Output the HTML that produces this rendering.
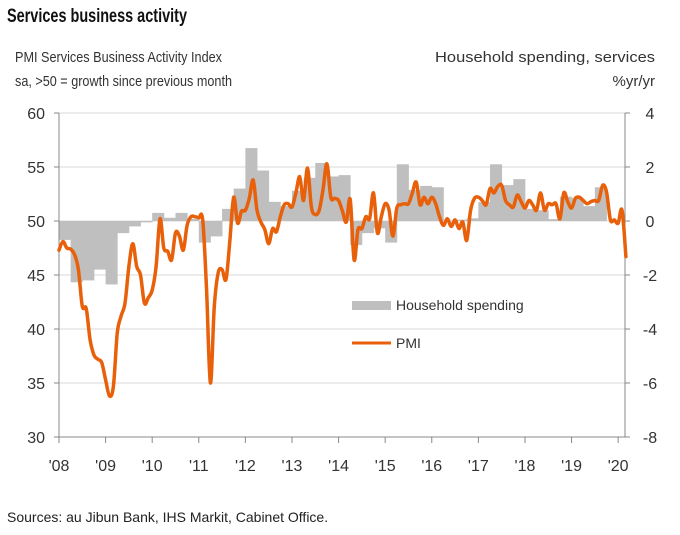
<!DOCTYPE html>
<html><head><meta charset="utf-8"><style>
body{margin:0;background:#fff;}
svg{display:block;font-family:"Liberation Sans",sans-serif;}
</style></head><body>
<svg id="chart" width="680" height="535" viewBox="0 0 680 535" xmlns="http://www.w3.org/2000/svg">
<text x="7" y="22" font-size="19" font-weight="bold" fill="#111" textLength="180" lengthAdjust="spacingAndGlyphs">Services business activity</text>
<text x="15" y="62" font-size="15" fill="#333" textLength="207" lengthAdjust="spacingAndGlyphs">PMI Services Business Activity Index</text>
<text x="15" y="86" font-size="15" fill="#333" textLength="217" lengthAdjust="spacingAndGlyphs">sa, &gt;50 = growth since previous month</text>
<text x="655" y="62" font-size="15" fill="#333" text-anchor="end" textLength="220" lengthAdjust="spacingAndGlyphs">Household spending, services</text>
<text x="655" y="86" font-size="15" fill="#333" text-anchor="end">%yr/yr</text>
<g id="grid"></g>
<g id="bars"></g>
<g id="axes"></g>
<path id="pmi" fill="none" stroke="#e8600a" stroke-width="3.5" stroke-linejoin="round" stroke-linecap="round"/>
<g>
<rect x="352" y="301" width="39" height="9" fill="#bfbfbf"/>
<text x="396" y="310" font-size="14" fill="#333">Household spending</text>
<line x1="352" y1="343" x2="391" y2="343" stroke="#e8600a" stroke-width="3"/>
<text x="396" y="348" font-size="14" fill="#333">PMI</text>
</g>
<text x="7" y="522" font-size="14" fill="#222">Sources: au Jibun Bank, IHS Markit, Cabinet Office.</text>
</svg>
<script>
const leftTicks = [30,35,40,45,50,55,60];
const rightTicks = [-8,-6,-4,-2,0,2,4];
const yearLabels = ["'08","'09","'10","'11","'12","'13","'14","'15","'16","'17","'18","'19","'20"];
const pmi = [47.3,48.1,47.5,47.4,46.9,45.5,42.1,41.9,39.0,37.6,37.2,36.9,
35.3,33.8,34.7,39.6,41.2,42.4,45.8,47.9,45.8,45.0,42.4,42.9,
43.6,45.8,50.2,47.5,47.2,46.4,48.9,48.6,47.3,49.6,50.4,50.4,
50.3,50.1,43.6,35.0,42.1,45.2,45.5,44.6,48.2,52.2,49.8,50.9,
51.0,52.1,53.8,51.0,49.9,49.2,47.9,49.3,49.0,50.4,51.5,51.6,
51.3,52.6,54.1,51.9,54.9,51.3,50.6,51.0,52.9,55.3,52.2,52.1,
51.9,50.9,49.9,52.0,46.4,49.2,49.3,50.4,50.2,52.6,48.9,50.4,
51.6,51.0,48.6,51.2,51.5,51.6,51.6,52.6,53.6,51.5,52.2,51.6,
52.2,51.6,50.4,49.6,50.2,49.5,50.1,49.3,49.9,48.2,51.0,52.1,
52.2,51.9,51.5,53.0,52.6,53.2,53.3,51.9,51.5,51.3,52.4,51.8,
51.2,51.9,51.5,51.0,52.6,51.0,51.6,51.5,51.6,50.2,52.6,51.8,
51.2,52.1,52.2,51.9,51.6,51.8,51.9,51.9,53.3,52.7,50.1,50.1,
49.8,51.0,46.7];
const household = [-0.7,-2.27,-2.2,-1.8, -2.35,-0.45,-0.2,-0.05, 0.3,0.12,0.3,0.08,
-0.8,-0.57,0.45,1.2, 2.7,1.87,0.71,0.55, 1.12,1.6,2.15,1.65,
1.7,-0.89,-0.45,-0.27, -0.8,2.1,1.15,1.3, 1.25,0.02,0.05,0.1,
0.7,2.1,1.33,1.55, 0.45,0.4,0.07,0.9, 0.85,0.55,1.25,0];

const X0=59, MW=3.883, L=59, R=625, T=113, B=437;
const xm = m => X0 + m*MW;
const yl = v => B - (v-30)/30*(B-T);
const yr = v => B - (v+8)/12*(B-T);
const NS="http://www.w3.org/2000/svg";
function mk(tag, parent){const e=document.createElementNS(NS,tag);document.getElementById(parent).appendChild(e);return e;}

leftTicks.forEach((v,i)=>{
  const y=yl(v);
  if(v>30){const g=mk('line','grid');
    
    
    g.setAttribute('x1',L);g.setAttribute('x2',R);g.setAttribute('y1',y);g.setAttribute('y2',y);g.setAttribute('stroke','#d9d9d9');g.setAttribute('stroke-width','1');}
  const t=mk('line','axes');
  
  
  t.setAttribute('x1',L-5);t.setAttribute('x2',L);t.setAttribute('y1',y);t.setAttribute('y2',y);t.setAttribute('stroke','#888');
  const tx=mk('text','axes');
  
  
  tx.setAttribute('x',45);tx.setAttribute('y',y+6);tx.setAttribute('font-size','16');tx.setAttribute('fill','#333');tx.setAttribute('text-anchor','end');tx.textContent=v;
});
rightTicks.forEach(v=>{
  const y=yr(v);
  const t=mk('line','axes');
  
  
  t.setAttribute('x1',R);t.setAttribute('x2',R+5);t.setAttribute('y1',y);t.setAttribute('y2',y);t.setAttribute('stroke','#888');
  const tx=mk('text','axes');
  
  
  tx.setAttribute('x',650);tx.setAttribute('y',y+6);tx.setAttribute('font-size','16');tx.setAttribute('fill','#333');tx.setAttribute('text-anchor','middle');tx.textContent=v;
});
yearLabels.forEach((s,i)=>{
  const x=xm(i*12);
  const t=mk('line','axes');
  
  
  t.setAttribute('x1',x);t.setAttribute('x2',x);t.setAttribute('y1',B);t.setAttribute('y2',B+6);t.setAttribute('stroke','#888');
  const tx=mk('text','axes');
  
  
  tx.setAttribute('x',x);tx.setAttribute('y',471);tx.setAttribute('font-size','16');tx.setAttribute('fill','#333');tx.setAttribute('text-anchor','middle');tx.textContent=s;
});
household.forEach((v,q)=>{
  const x=xm(q*3), w=MW*3, y0=yr(0), y1=yr(v);
  const r=mk('rect','bars');
  
  
  r.setAttribute('x',x);r.setAttribute('width',w+0.4);r.setAttribute('y',Math.min(y0,y1));r.setAttribute('height',Math.abs(y1-y0));r.setAttribute('fill','#bfbfbf');
});
[[L,T,L,B],[R,T,R,B],[L,B,R,B]].forEach(a=>{
  const l=mk('line','axes');
  
  
  l.setAttribute('x1',a[0]);l.setAttribute('y1',a[1]);l.setAttribute('x2',a[2]);l.setAttribute('y2',a[3]);l.setAttribute('stroke','#888');
});
// smooth Catmull-Rom path through the monthly points
const pts = pmi.map((v,i)=>[xm(i), yl(v)]);
let d = 'M'+pts[0][0].toFixed(1)+','+pts[0][1].toFixed(1);
for(let i=0;i<pts.length-1;i++){
  const p0=pts[Math.max(0,i-1)], p1=pts[i], p2=pts[i+1], p3=pts[Math.min(pts.length-1,i+2)];
  const c1=[p1[0]+(p2[0]-p0[0])/6, p1[1]+(p2[1]-p0[1])/6];
  const c2=[p2[0]-(p3[0]-p1[0])/6, p2[1]-(p3[1]-p1[1])/6];
  d+='C'+c1[0].toFixed(1)+','+c1[1].toFixed(1)+' '+c2[0].toFixed(1)+','+c2[1].toFixed(1)+' '+p2[0].toFixed(1)+','+p2[1].toFixed(1);
}
document.getElementById('pmi').setAttribute('d', d);
</script>
</body></html>
